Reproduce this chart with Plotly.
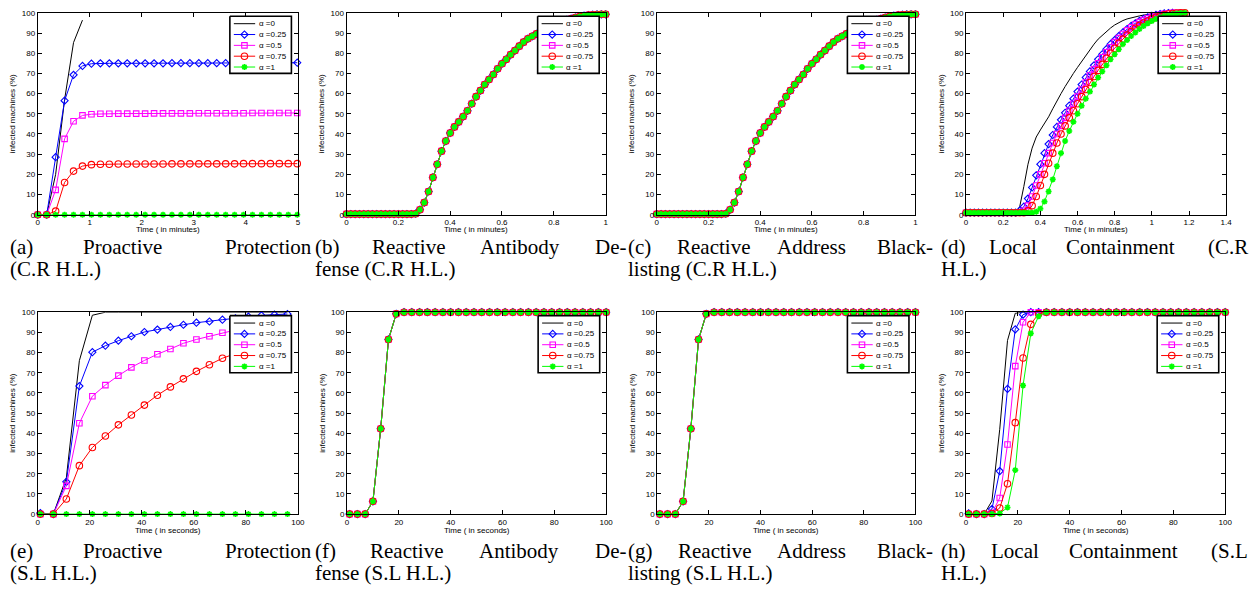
import plotly.graph_objects as go

W, H = 1256, 589

# ---------------------------------------------------------------- series styles
SERIES_NAMES = ["α =0", "α =0.25", "α =0.5", "α =0.75", "α =1"]
SERIES_COLORS = ["#000000", "#0000ff", "#ff00ff", "#ff0000", "#00ff00"]
SERIES_SYMBOLS = [None, "diamond-open", "square-open", "circle-open", "asterisk-open"]
SERIES_MSIZE = [0, 5.5, 5.5, 6.5, 5]

# ---------------------------------------------------------------- (a) proactive, C.R H.L. (minutes)
T_A = [round(0.172 * i, 3) for i in range(30)]
A_0 = [0, 0, 20, 57, 85.3, 96.4]
A_25 = [0, 0, 28.5, 56.5, 69.3, 73.7, 74.8, 75.0, 75.0, 75.0, 75.0, 75.0, 75.0, 75.0, 75.0,
        75.1, 75.1, 75.1, 75.1, 75.1, 75.1, 75.1, 75.2, 75.2, 75.2, 75.2, 75.2, 75.2, 75.2, 75.3]
A_50 = [0, 0, 12.3, 37.6, 46.3, 49.2, 49.8, 50.0, 50.0, 50.1, 50.1, 50.1, 50.1, 50.2, 50.2,
        50.2, 50.2, 50.2, 50.3, 50.3, 50.3, 50.3, 50.3, 50.3, 50.4, 50.4, 50.4, 50.4, 50.4, 50.4]
A_75 = [0, 0, 1.8, 16.0, 21.6, 24.1, 24.8, 25.0, 25.0, 25.1, 25.1, 25.1, 25.1, 25.1, 25.1,
        25.2, 25.2, 25.2, 25.2, 25.2, 25.2, 25.2, 25.2, 25.3, 25.3, 25.3, 25.3, 25.3, 25.3, 25.3]
A_100 = [0.0] * 30

# ---------------------------------------------------------------- (b)/(c) reactive defences, C.R H.L.
T_B = [round(i / 60, 4) for i in range(61)]
REACTIVE_CR = [0.3] * 16 + [
    0.5, 2.5, 6, 11.5, 18.5, 25, 31.5, 36.5, 40.5, 43.5, 46, 48.6, 51.5, 55, 58.5,
    61.5, 64.5, 67, 69.5, 72.3, 74.8, 77, 79.3, 81.3, 83.5, 85.5, 87.2, 88.4, 89.6, 90.8,
    92, 93.1, 94.1, 95, 95.8, 96.5, 97.1, 97.7, 98.2, 98.6, 98.9, 99.1, 99.2, 99.3, 99.3]

# ---------------------------------------------------------------- (d) local containment, C.R H.L.
T_D = [round(i / 45, 4) for i in range(54)]
D_0 = [0] * 12 + [
    0.5, 4, 14, 25, 33, 38.5, 42, 45, 48.5, 52.5, 56.5, 60, 63.5, 67, 70, 73, 76, 79, 82,
    84.5, 87, 89, 90.8, 92.5, 94, 95.2, 96.2, 97, 97.6, 98.1, 98.5, 98.9, 99.2, 99.5, 99.7,
    99.8, 99.9, 100, 100]
D_25 = [1] * 13 + [
    2, 4, 8, 13.5, 19.5, 25, 30.5, 35, 39.5, 43.5, 47, 50.5, 54, 57.5, 61, 64.5, 68, 71,
    74, 77, 79.5, 82, 84.5, 86.5, 88.5, 90.3, 92, 93.5, 94.8, 96, 97, 97.8, 98.5, 99, 99.4,
    99.7, 99.9, 100]
D_50 = [1] * 14 + [
    2, 4.5, 9, 14.5, 20, 25.5, 30.5, 35.5, 40, 44, 48, 51.5, 55, 58.5, 62, 65.5, 69, 72,
    75, 78, 80.5, 83, 85.5, 87.5, 89.5, 91.3, 92.8, 94.2, 95.4, 96.4, 97.3, 98, 98.6, 99.1,
    99.5, 99.8, 100, 100, 100]
D_75 = [1] * 15 + [
    2, 4.5, 9, 14.5, 20, 25.5, 30.5, 35.5, 40, 44, 48, 51.5, 55, 58.5, 62, 65.5, 68.5,
    71.5, 74.5, 77.5, 80, 82.5, 85, 87, 89, 90.8, 92.4, 93.8, 95, 96, 97, 97.8, 98.5, 99,
    99.4, 99.7, 99.9, 100, 100]
D_100 = [1] * 17 + [
    1.5, 3, 6.5, 11.5, 17.5, 24, 30.5, 36.5, 41.5, 46, 50, 54, 57.5, 61, 64.5, 68, 71, 74,
    77, 79.5, 82, 84.5, 86.5, 88.5, 90.3, 92, 93.5, 94.8, 96, 97, 97.8, 98.5, 99, 99.4,
    99.7, 99.9, 100]

# ---------------------------------------------------------------- (e) proactive, S.L H.L. (seconds)
T_E = list(range(1, 100, 5))
E_0 = [0, 0, 18, 76, 98.5] + [100] * 15
E_25 = [0.5, 0, 16, 63.4, 80.2, 83.4, 85.9, 88.1, 90.2, 91.4, 92.7, 93.8, 94.8, 95.4, 96.3,
        97.0, 97.8, 98.4, 98.8, 99.1]
E_50 = [0, 0, 14, 45, 58.4, 63.9, 68.6, 72.7, 76.1, 79.2, 81.8, 84.6, 86.5, 88.1, 89.8,
        91.2, 92.4, 93.4, 94.3, 95.0]
E_75 = [0, 0, 7.5, 24, 33, 38.7, 44.2, 49.1, 54, 58.9, 63, 67, 70.7, 74, 77.2, 79.5, 82,
        84, 86, 88]
E_100 = [0.0] * 20

# ---------------------------------------------------------------- (f)/(g) reactive defences, S.L H.L.
T_F = list(range(1, 101, 3))
REACTIVE_SL = [0, 0, 0, 6.3, 42.3, 86.5, 99.2] + [100] * 27

# ---------------------------------------------------------------- (h) local containment, S.L H.L.
H_0 = [0, 0, 0, 6.5, 42, 86, 99.5] + [100] * 27
H_25 = [0.3, 0, 0, 2.5, 21.3, 62, 91.5, 98.8] + [100] * 26
H_50 = [0, 0, 0, 0.5, 8, 34.5, 73.3, 95] + [100] * 26
H_75 = [0, 0, 0, 0.3, 3, 15, 45.3, 77.3, 94, 99.3] + [100] * 24
H_100 = [0, 0, 0, 0, 0.3, 3.3, 21.8, 63.7, 89.5, 98] + [100] * 24

# ---------------------------------------------------------------- captions
CAPTIONS = [
    ("(a) Proactive Protection", "(C.R H.L.)"),
    ("(b) Reactive Antibody De-", "fense (C.R H.L.)"),
    ("(c) Reactive Address Black-", "listing (C.R H.L.)"),
    ("(d) Local Containment (C.R", "H.L.)"),
    ("(e) Proactive Protection", "(S.L H.L.)"),
    ("(f) Reactive Antibody De-", "fense (S.L H.L.)"),
    ("(g) Reactive Address Black-", "listing (S.L H.L.)"),
    ("(h) Local Containment (S.L", "H.L.)"),
]

X_TITLE_MIN = "Time ( in minutes)"
X_TITLE_SEC = "Time ( in seconds)"
Y_TITLE = "infected machines (%)"

# ---------------------------------------------------------------- panel layout (pixel boxes: x0, y0, x1, y1)
PANELS = [
    dict(box=(36, 9, 298, 214), xr=[0, 5], dt=1, xt=X_TITLE_MIN,
         data=[(T_A[:len(A_0)], A_0), (T_A, A_25), (T_A, A_50), (T_A, A_75), (T_A, A_100)]),
    dict(box=(347, 9, 608, 214), xr=[0, 1], dt=0.2, xt=X_TITLE_MIN,
         data=[(T_B, REACTIVE_CR)] * 5),
    dict(box=(659.5, 9, 920, 214), xr=[0, 1], dt=0.2, xt=X_TITLE_MIN,
         data=[(T_B, REACTIVE_CR)] * 5),
    dict(box=(971, 9, 1233, 214), xr=[0, 1.4], dt=0.2, xt=X_TITLE_MIN,
         data=[(T_D[:len(D_0)], D_0), (T_D[:len(D_25)], D_25), (T_D[:len(D_50)], D_50),
               (T_D[:len(D_75)], D_75), (T_D[:len(D_100)], D_100)]),
    dict(box=(36, 313, 298, 518), xr=[0, 100], dt=20, xt=X_TITLE_SEC,
         data=[(T_E, E_0), (T_E, E_25), (T_E, E_50), (T_E, E_75), (T_E, E_100)]),
    dict(box=(347.5, 313, 608.5, 518), xr=[0, 100], dt=20, xt=X_TITLE_SEC,
         data=[(T_F, REACTIVE_SL)] * 5),
    dict(box=(660, 313, 920, 518), xr=[0, 100], dt=20, xt=X_TITLE_SEC,
         data=[(T_F, REACTIVE_SL)] * 5),
    dict(box=(971, 313, 1232, 518), xr=[0, 100], dt=20, xt=X_TITLE_SEC,
         data=[(T_F, H_0), (T_F, H_25), (T_F, H_50), (T_F, H_75), (T_F, H_100)]),
]

CAPTION_COLS = [(9, 311), (316, 628), (632, 937), (947, 1254)]
CAPTION_ROWS = [(247, 269.5), (555, 578)]
X_TITLE_DROP = [14.5, 16.5]   # distance below the axis of the x title, per row

SANS = "Liberation Sans, Arial, sans-serif"
SERIF = "Liberation Serif, Times New Roman, serif"
CAP_SIZE = 21
CAP_STRETCH = 1.22   # printed caption words run a little wider than Times metrics
ANN_PAD = 3          # inner padding plotly adds around annotation text

# Times-metric advance widths (1/1000 em) used to justify the first caption line
TIMES_W = {' ': 250, '(': 333, ')': 333, '.': 250, '-': 333,
           'a': 444, 'b': 500, 'c': 444, 'd': 500, 'e': 444, 'f': 333, 'g': 500, 'h': 500,
           'i': 278, 'k': 500, 'l': 278, 'm': 778, 'n': 500, 'o': 500, 'r': 333, 's': 389,
           't': 278, 'v': 500, 'y': 500, 'A': 722, 'B': 667, 'C': 667, 'D': 722, 'H': 722,
           'L': 611, 'P': 556, 'R': 667, 'S': 556}


def text_width(s, size):
    return sum(TIMES_W.get(ch, 500) for ch in s) * size / 1000.0


def px(x):
    return x / W


def py(y):
    return 1 - y / H


fig = go.Figure()
annotations = []

axis_common = dict(showline=True, linecolor="black", linewidth=1, mirror="ticks",
                   ticks="inside", ticklen=4, tickwidth=1, tickcolor="black",
                   showgrid=False, zeroline=False, fixedrange=True,
                   tickfont=dict(family=SANS, size=8, color="black"))

for i, p in enumerate(PANELS):
    n = i + 1
    sfx = "" if n == 1 else str(n)
    x0, y0, x1, y1 = p["box"]
    fig.update_layout({
        f"xaxis{sfx}": dict(axis_common, domain=[px(x0), px(x1)], range=p["xr"],
                            dtick=p["dt"], tick0=0, anchor=f"y{sfx}"),
        f"yaxis{sfx}": dict(axis_common, domain=[py(y1), py(y0)], range=[0, 100],
                            dtick=10, tick0=0, anchor=f"x{sfx}",
                            title=dict(text=Y_TITLE, font=dict(family=SANS, size=8, color="black"),
                                       standoff=4)),
    })
    # x-axis title, set tight under the tick labels
    annotations.append(dict(x=px((x0 + x1) / 2), y=py(y1 + X_TITLE_DROP[i // 4]),
                            xref="paper", yref="paper", xanchor="center", yanchor="middle",
                            showarrow=False, text=p["xt"],
                            font=dict(family=SANS, size=8, color="black")))

    for k, (tx, vy) in enumerate(p["data"]):
        sym = SERIES_SYMBOLS[k]
        fig.add_trace(go.Scatter(
            x=tx, y=vy, xaxis=f"x{sfx}", yaxis=f"y{sfx}",
            mode="lines" if sym is None else "lines+markers",
            line=dict(color=SERIES_COLORS[k], width=1),
            marker=dict(symbol=sym or "circle", size=SERIES_MSIZE[k], color=SERIES_COLORS[k],
                        line=dict(color=SERIES_COLORS[k], width=1.6 if k == 4 else 1.1)),
            name=SERIES_NAMES[k], showlegend=False, cliponaxis=False, hoverinfo="skip"))

    # legend box in the upper-right corner of the panel (drawn on the overlay axes)
    lr = x1 - 6.5
    ll = lr - 62
    lt = y0 + 3.5
    lb = lt + 58
    fig.add_trace(go.Scatter(x=[ll, lr, lr, ll, ll], y=[lt, lt, lb, lb, lt], mode="lines",
                             fill="toself", fillcolor="white",
                             line=dict(color="black", width=1.6),
                             xaxis="x9", yaxis="y9", showlegend=False, hoverinfo="skip"))
    for k in range(5):
        ry = lt + 7.5 + 11 * k
        fig.add_trace(go.Scatter(x=[ll + 4, ll + 25.5], y=[ry, ry], mode="lines",
                                 line=dict(color=SERIES_COLORS[k], width=1),
                                 xaxis="x9", yaxis="y9", showlegend=False, hoverinfo="skip"))
        if SERIES_SYMBOLS[k]:
            fig.add_trace(go.Scatter(
                x=[ll + 14.7], y=[ry], mode="markers",
                marker=dict(symbol=SERIES_SYMBOLS[k], size=SERIES_MSIZE[k],
                            color=SERIES_COLORS[k],
                            line=dict(color=SERIES_COLORS[k], width=1.6 if k == 4 else 1.1)),
                xaxis="x9", yaxis="y9", showlegend=False, hoverinfo="skip", cliponaxis=False))
        annotations.append(dict(x=px(ll + 30 - ANN_PAD), y=py(ry), xref="paper", yref="paper",
                                xanchor="left", yanchor="middle", showarrow=False,
                                text=SERIES_NAMES[k],
                                font=dict(family=SANS, size=8, color="black")))

    # caption: justified first line (middle words centred), ragged second line
    cl, cr = CAPTION_COLS[i % 4]
    yl1, yl2 = CAPTION_ROWS[i // 4]
    line1, line2 = CAPTIONS[i]
    words = line1.split(" ")
    widths = [text_width(w, CAP_SIZE) * CAP_STRETCH for w in words]
    gap = (cr - cl - sum(widths)) / (len(words) - 1)
    xpos = cl
    for j, w in enumerate(words):
        if j == 0:
            ax, anc = cl - ANN_PAD, "left"
        elif j == len(words) - 1:
            ax, anc = cr + ANN_PAD, "right"
        else:
            ax, anc = xpos + widths[j] / 2, "center"
        annotations.append(dict(x=px(ax), y=py(yl1), xref="paper", yref="paper",
                                xanchor=anc, yanchor="middle", showarrow=False, text=w,
                                font=dict(family=SERIF, size=CAP_SIZE, color="black")))
        xpos += widths[j] + gap
    annotations.append(dict(x=px(cl - ANN_PAD), y=py(yl2), xref="paper", yref="paper",
                            xanchor="left", yanchor="middle", showarrow=False, text=line2,
                            font=dict(family=SERIF, size=CAP_SIZE, color="black")))

fig.update_layout(
    xaxis9=dict(domain=[0, 1], range=[0, W], visible=False, fixedrange=True, anchor="y9"),
    yaxis9=dict(domain=[0, 1], range=[H, 0], visible=False, fixedrange=True, anchor="x9"),
    width=W, height=H, margin=dict(l=0, r=0, t=0, b=0),
    paper_bgcolor="white", plot_bgcolor="rgba(0,0,0,0)",
    showlegend=False, hovermode=False,
    annotations=annotations,
)

fig.write_html("out.html")
